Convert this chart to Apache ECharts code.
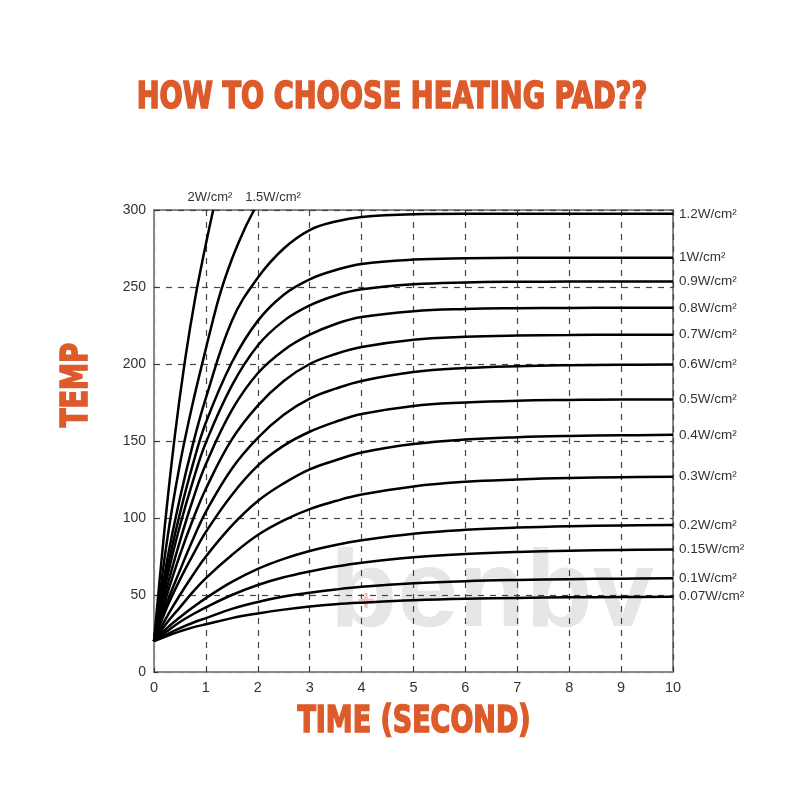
<!DOCTYPE html>
<html>
<head>
<meta charset="utf-8">
<script src="https://cdn.jsdelivr.net/npm/echarts@6/dist/echarts.min.js"></script>
<style>html,body{margin:0;padding:0;background:#fff}#c{width:800px;height:800px}</style>
</head>
<body>
<div id="c"></div>
<script>
// ---- data ----
var timeSteps = [0, 0.25, 0.5, 0.75, 1, 1.5, 2, 2.5, 3, 3.5, 4, 5, 6, 7, 8, 9, 10];
var time15 = [0, 0.25, 0.5, 0.75, 1, 1.25, 1.5, 1.75, 1.93];
var time20 = [0, 0.2, 0.4, 0.6, 0.8, 1, 1.14];

var temp20  = [20, 92, 153, 203, 244, 278, 300];
var temp15  = [20, 85, 135, 175, 210, 243, 268, 288, 300];
var temp120 = [20, 72, 113, 148, 178, 228, 256, 275, 287, 292.5, 295.5, 297.2, 297.5, 297.5, 297.5, 297.5, 297.5];
var temp100 = [20, 66, 103, 135, 162, 201, 228, 245, 255, 261, 265, 267.8, 268.7, 269, 269, 269, 269];
var temp090 = [20, 61, 95, 124, 149, 186, 212, 228, 238, 244.5, 248.5, 251.8, 253, 253.4, 253.5, 253.5, 253.5];
var temp080 = [20, 55, 85, 112, 135, 170, 194, 209, 219, 226, 230.5, 234.3, 235.7, 236.2, 236.4, 236.5, 236.5];
var temp070 = [20, 50, 76, 99, 119, 151, 173, 189, 200, 206.5, 211, 215.8, 217.7, 218.5, 218.8, 219, 219];
var temp060 = [20, 45, 66, 86, 104, 132, 152, 167, 177.5, 184, 189, 194.8, 197.4, 198.6, 199.2, 199.5, 199.6];
var temp050 = [20, 42, 60, 76, 91, 115, 134, 147, 156, 162.5, 167.5, 172.8, 175, 176.2, 176.7, 177, 177];
var temp040 = [20, 36, 50, 63, 75, 95, 111, 122.5, 131.6, 137.5, 142.5, 148, 151, 152.5, 153.3, 153.7, 154];
var temp030 = [20, 32, 42, 52, 61, 76, 89, 98.5, 105.8, 111, 115.2, 120.5, 123.5, 125, 126, 126.5, 126.8];
var temp020 = [20, 28.5, 35.5, 42, 48, 58.5, 67, 73.5, 78.6, 82.5, 85.5, 89.8, 92.3, 93.8, 94.7, 95.2, 95.5];
var temp015 = [20, 26.5, 32.5, 37.5, 42, 50, 56.5, 61.5, 65.3, 68.5, 71, 74.5, 76.6, 77.9, 78.7, 79.2, 79.5];
var temp010 = [20, 24.5, 28.5, 32, 35, 41, 45.5, 49, 51.5, 53.6, 55.3, 57.6, 59, 59.8, 60.3, 60.6, 60.8];
var temp007 = [20, 23.4, 26.4, 29, 31, 35, 38, 40.5, 42.5, 44, 45, 46.6, 47.6, 48.1, 48.5, 48.7, 48.9];

var rightCurves = [
  ['1.2W/cm²', temp120], ['1W/cm²', temp100], ['0.9W/cm²', temp090], ['0.8W/cm²', temp080],
  ['0.7W/cm²', temp070], ['0.6W/cm²', temp060], ['0.5W/cm²', temp050], ['0.4W/cm²', temp040],
  ['0.3W/cm²', temp030], ['0.2W/cm²', temp020], ['0.15W/cm²', temp015], ['0.1W/cm²', temp010],
  ['0.07W/cm²', temp007]
];
var topCurves = [['2W/cm²', time20, temp20], ['1.5W/cm²', time15, temp15]];

var xTicks = [0,1,2,3,4,5,6,7,8,9,10];

var titleText = 'HOW TO CHOOSE HEATING PAD??';
var xTitle = 'TIME (SECOND)';
var yTitle = 'TEMP';
var watermark = 'benbv';

// ---- chart ----
var accent = '#DD5A2B';
var heavy = '"DejaVu Sans Condensed", "DejaVu Sans", sans-serif';
function pairs(xs, ys){ return xs.map(function(x,i){ return [x, ys[i]]; }); }

var series = [];
rightCurves.forEach(function(c){
  series.push({
    type: 'line', name: c[0], data: pairs(timeSteps, c[1]),
    smooth: 0.4, showSymbol: false, symbol: 'none',
    lineStyle: {color: '#000', width: 2.5}, z: 5,
    endLabel: {show: true, formatter: '{a}', color: '#333', fontSize: 13.5,
               fontFamily: '"Liberation Sans", Arial, sans-serif', distance: 6}
  });
});
topCurves.forEach(function(c){
  series.push({
    type: 'line', name: c[0], data: pairs(c[1], c[2]),
    smooth: 0.3, showSymbol: false, symbol: 'none',
    lineStyle: {color: '#000', width: 2.5}, z: 5
  });
});

var titleStyle = {textAlign: 'center', textVerticalAlign: 'middle',
                  font: 'bold 37px ' + heavy, fill: accent, stroke: accent, lineWidth: 1.6};
function heavyText(t){ var s = Object.assign({}, titleStyle); s.text = t; return s; }

var chart = echarts.init(document.getElementById('c'), null, {renderer: 'canvas'});
chart.setOption({
  backgroundColor: '#fff',
  animation: false,
  grid: {left: 154, right: 127, top: 210, bottom: 128, show: true,
         borderColor: '#888', borderWidth: 2, backgroundColor: 'transparent'},
  xAxis: {
    type: 'value', min: 0, max: 10, interval: 1,
    axisLine: {show: true, lineStyle: {color: '#888', width: 2}},
    axisTick: {show: true, inside: true, length: 4, lineStyle: {color: '#333'}},
    axisLabel: {color: '#333', fontSize: 14.5, margin: 8,
                fontFamily: '"Liberation Sans", Arial, sans-serif',
                formatter: function(v){ return xTicks.indexOf(v) >= 0 ? String(v) : ''; }},
    splitLine: {show: true, lineStyle: {color: '#444', type: [6, 6], width: 1.2}}
  },
  yAxis: {
    type: 'value', min: 0, max: 300, interval: 50,
    axisLine: {show: true, lineStyle: {color: '#888', width: 2}},
    axisTick: {show: true, inside: true, length: 4, lineStyle: {color: '#333'}},
    axisLabel: {color: '#333', fontSize: 14, margin: 8,
                fontFamily: '"Liberation Sans", Arial, sans-serif'},
    splitLine: {show: true, lineStyle: {color: '#444', type: [6, 6], width: 1.2}}
  },
  graphic: [
    {type: 'text', x: 492, y: 596, z: 0, silent: true,
     style: {text: watermark, textAlign: 'center', textVerticalAlign: 'middle',
             font: 'bold 110px "Liberation Sans", Arial, sans-serif', fill: '#e6e6e6'}},
    {type: 'text', x: 366, y: 602, z: 1, silent: true,
     style: {text: '+', textAlign: 'center', textVerticalAlign: 'middle',
             font: 'bold 30px "Liberation Sans", Arial, sans-serif', fill: '#f2c4c4'}},
    {type: 'text', x: 392, y: 98, scaleX: 0.82, z: 10, style: heavyText(titleText)},
    {type: 'text', x: 414, y: 722, scaleX: 0.81, z: 10, style: heavyText(xTitle)},
    {type: 'text', x: 77, y: 385, rotation: Math.PI / 2, scaleX: 0.82, z: 10, style: heavyText(yTitle)},
    {type: 'text', x: 210, y: 197, z: 10,
     style: {text: topCurves[0][0], textAlign: 'center', textVerticalAlign: 'middle',
             font: '13px "Liberation Sans", Arial, sans-serif', fill: '#333'}},
    {type: 'text', x: 273, y: 197, z: 10,
     style: {text: topCurves[1][0], textAlign: 'center', textVerticalAlign: 'middle',
             font: '13px "Liberation Sans", Arial, sans-serif', fill: '#333'}}
  ],
  series: series
});
</script>
</body>
</html>
